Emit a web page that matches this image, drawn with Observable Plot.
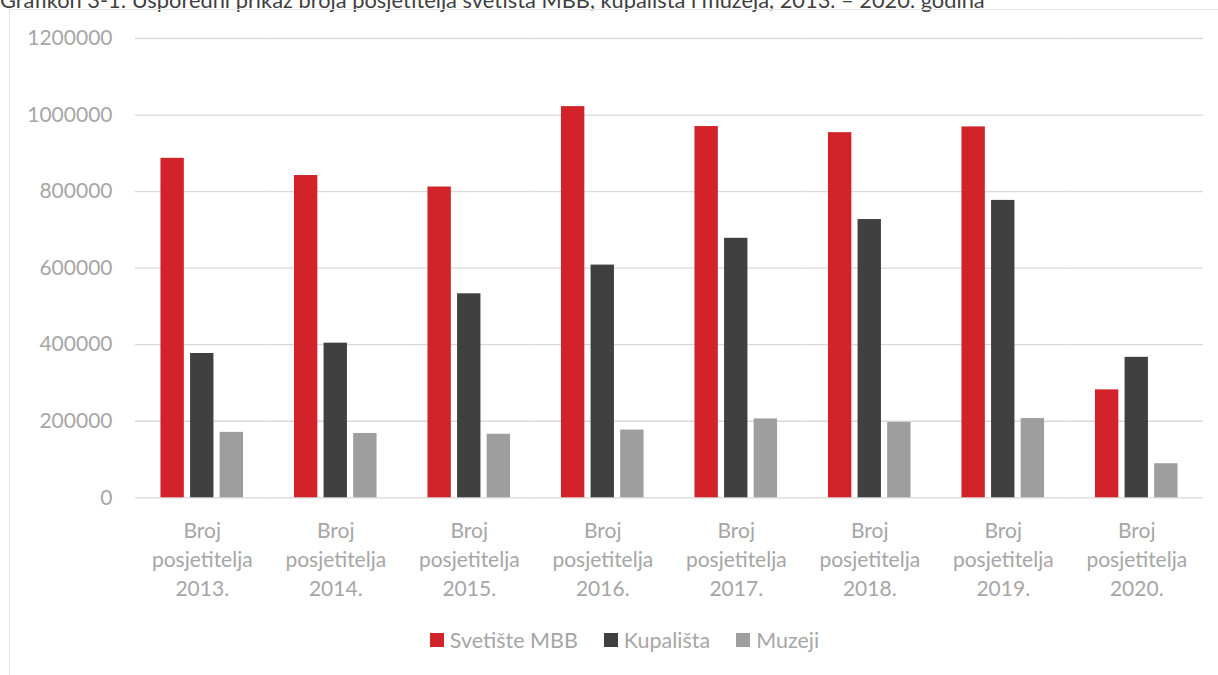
<!DOCTYPE html>
<html>
<head>
<meta charset="utf-8">
<script src="https://cdn.jsdelivr.net/npm/d3@7"></script>
<script src="https://cdn.jsdelivr.net/npm/@observablehq/plot@0.6"></script>
<style>
  html, body { margin: 0; padding: 0; background: #fff; overflow: hidden; width: 1218px; height: 675px; }
  #title { position: absolute; left: 0px; top: -10px; font-family: "Lato", sans-serif; font-size: 17px; line-height: 20px; color: #404040; white-space: nowrap; }
  #frame { position: absolute; left: 9px; top: 9px; width: 1300px; height: 800px; border: 1.5px solid #e4e4e4; box-sizing: border-box; }
  #chart { position: absolute; left: 0; top: 0; }
  #legend { position: absolute; top: 627px; left: 0; width: 1249px; display: flex; justify-content: center; gap: 26px; font-family: "Lato", sans-serif; font-size: 21.5px; color: #a6a6a6; }
  .item { display: flex; align-items: center; }
  .sw { width: 14px; height: 14px; margin-right: 6px; display: inline-block; }
</style>
</head>
<body>
<div id="title">Grafikon 3-1: Usporedni prikaz broja posjetitelja svetišta MBB, kupališta i muzeja, 2013. – 2020. godina</div>
<div id="frame"></div>
<div id="chart"></div>
<div id="legend"></div>
<script>
const years = ["2013.", "2014.", "2015.", "2016.", "2017.", "2018.", "2019.", "2020."];
const seriesNames = ["Svetište MBB", "Kupališta", "Muzeji"];
const svetiste = [887000, 842000, 812000, 1022000, 970000, 954000, 969000, 282000];
const kupalista = [377000, 404000, 533000, 608000, 678000, 727000, 777000, 367000];
const muzeji = [171000, 168000, 166000, 177000, 206000, 197000, 207000, 89000];
const colors = ["#d2232a", "#404040", "#9e9e9e"];
const yTicks = [0, 200000, 400000, 600000, 800000, 1000000, 1200000];

const values = [svetiste, kupalista, muzeji];
const data = [];
years.forEach((yr, i) => {
  seriesNames.forEach((s, j) => {
    data.push({year: yr, series: s, value: values[j][i]});
  });
});

// fit title to width
(function() {
  const t = document.getElementById("title");
  const w = t.getBoundingClientRect().width;
  const target = 985;
  t.style.fontSize = (17 * target / w).toFixed(2) + "px";
})();

const chart = Plot.plot({
  width: 1218,
  height: 610,
  marginLeft: 135,
  marginRight: 15,
  marginTop: 38,
  marginBottom: 112.7,
  style: {fontFamily: "Lato, sans-serif", fontSize: "21px", color: "#a6a6a6", background: "transparent", overflow: "visible"},
  fx: {domain: years, padding: 0, round: false, label: null},
  x: {domain: seriesNames, paddingInner: 0.21, paddingOuter: 0.86, round: false, axis: null},
  y: {domain: [0, 1200000], ticks: yTicks, label: null},
  color: {domain: seriesNames, range: colors},
  marks: [
    Plot.gridY(yTicks, {stroke: "#d9d9d9", strokeOpacity: 1, strokeWidth: 1.3}),
    Plot.axisY(yTicks, {tickSize: 0, tickPadding: 23, tickFormat: d => String(d), label: null}),
    Plot.axisFx({anchor: "bottom", tickSize: 0, tickPadding: 19, lineHeight: 1.4, label: null, tickFormat: d => "Broj\nposjetitelja\n" + d}),
    Plot.barY(data, {fx: "year", x: "series", y: "value", fill: "series"})
  ]
});
document.getElementById("chart").appendChild(chart);

const legend = document.getElementById("legend");
seriesNames.forEach((s, j) => {
  const item = document.createElement("div");
  item.className = "item";
  const sw = document.createElement("span");
  sw.className = "sw";
  sw.style.background = colors[j];
  item.appendChild(sw);
  const lab = document.createElement("span");
  lab.textContent = s;
  item.appendChild(lab);
  legend.appendChild(item);
});
</script>
</body>
</html>
